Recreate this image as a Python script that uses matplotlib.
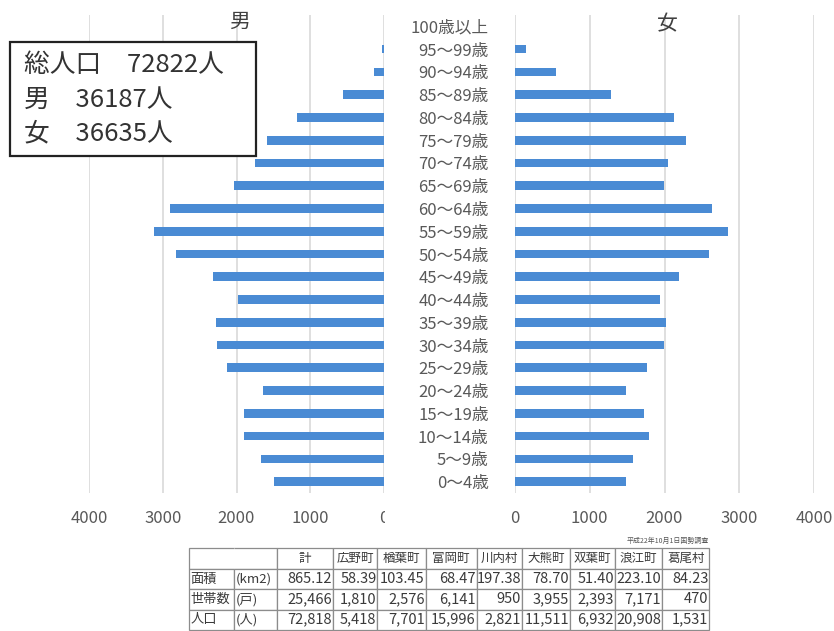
import matplotlib
matplotlib.use("Agg")
import matplotlib.pyplot as plt
from matplotlib.patches import Rectangle
from matplotlib.transforms import Bbox, TransformedBbox
import numpy as np

plt.rcParams['font.family'] = ['Noto Sans CJK JP', 'DejaVu Sans']

# age groups, bottom to top
age_labels = ['0～4歳', '5～9歳', '10～14歳', '15～19歳', '20～24歳', '25～29歳',
              '30～34歳', '35～39歳', '40～44歳', '45～49歳', '50～54歳', '55～59歳',
              '60～64歳', '65～69歳', '70～74歳', '75～79歳', '80～84歳', '85～89歳',
              '90～94歳', '95～99歳', '100歳以上']
male = [1497, 1664, 1904, 1904, 1636, 2125, 2260, 2272, 1978, 2313, 2814,
        3112, 2904, 2037, 1750, 1585, 1180, 555, 135, 30, 0]
female = [1486, 1575, 1794, 1731, 1486, 1771, 1995, 2021, 1941, 2191, 2601,
          2851, 2641, 1999, 2052, 2290, 2125, 1290, 555, 145, 0]
x_ticks = [0, 1000, 2000, 3000, 4000]

summary_lines = ['総人口　72822人', '男　36187人', '女　36635人']

# table data
table_header = ['', '', '計', '広野町', '楢葉町', '富岡町', '川内村', '大熊町', '双葉町', '浪江町', '葛尾村']
table_rows = [
    ['面積', '(km2)', '865.12', '58.39', '103.45', '68.47', '197.38', '78.70', '51.40', '223.10', '84.23'],
    ['世帯数', '(戸)', '25,466', '1,810', '2,576', '6,141', '950', '3,955', '2,393', '7,171', '470'],
    ['人口', '(人)', '72,818', '5,418', '7,701', '15,996', '2,821', '11,511', '6,932', '20,908', '1,531'],
]
table_note = '平成22年10月1日国勢調査'

W, H = 834, 631
bar_color = '#4a8bd4'
grid_color = '#d9d9d9'
text_gray = '#595959'

fig = plt.figure(figsize=(W / 100, H / 100), dpi=100)
fig.patch.set_facecolor('white')

def fx(px):
    return px / W

def fy(py):
    return 1 - py / H

y = np.arange(len(age_labels))

ax_l = fig.add_axes([fx(89), fy(493), fx(295), 478 / H])
ax_r = fig.add_axes([fx(515), fy(493), fx(299), 478 / H])

ax_l.barh(y, male, height=0.38, color=bar_color, zorder=2)
ax_r.barh(y, female, height=0.38, color=bar_color, zorder=2)

for ax in (ax_l, ax_r):
    ax.set_ylim(-0.5, len(age_labels) - 0.5)
    ax.set_xticks(x_ticks)
    ax.set_xticklabels([str(t) for t in x_ticks])
    ax.xaxis.grid(True, color=grid_color, linewidth=1.2, zorder=0)
    ax.set_axisbelow(True)
    for s in ax.spines.values():
        s.set_visible(False)
    ax.tick_params(axis='x', length=0, pad=12, labelsize=12, labelcolor=text_gray)

ax_l.set_xlim(4000, 0)
ax_r.set_xlim(0, 4000)
ax_l.set_yticks([])
ax_r.set_yticks(y)
ax_r.set_yticklabels(age_labels)
ax_r.tick_params(axis='y', length=0, pad=19, labelsize=12, labelcolor=text_gray)

# the left "0" label is cut off at the axis edge in the original
zero_lbl = ax_l.xaxis.get_major_ticks()[0].label1
zero_lbl.set_clip_box(TransformedBbox(Bbox([[0, 0], [fx(385), 1]]), fig.transFigure))
zero_lbl.set_clip_on(True)

# panel titles
fig.text(fx(240), fy(22), '男', fontsize=15, color='#404040', ha='center', va='center')
fig.text(fx(667), fy(24), '女', fontsize=15, color='#404040', ha='center', va='center')

# summary box
fig.patches.append(Rectangle((fx(10), fy(156)), fx(246), 114 / H, transform=fig.transFigure,
                             facecolor='white', edgecolor='#222222', linewidth=1.6, zorder=3))
for line, yy in zip(summary_lines, [65, 100, 133]):
    fig.text(fx(24), fy(yy), line, fontsize=18.5, color='#333333', ha='left', va='center', zorder=4)

# table
col_w = [45.3, 42.4, 56.3, 44.3, 48.4, 51, 45.3, 48, 45, 47.3, 47]
tab_ax = fig.add_axes([fx(189), fy(630), fx(520.3), 81.7 / H])
tab_ax.axis('off')
tbl = tab_ax.table(cellText=[table_header] + table_rows,
                   colWidths=[c / sum(col_w) for c in col_w],
                   bbox=[0, 0, 1, 1])
tbl.auto_set_font_size(False)
for (r, c), cell in tbl.get_celld().items():
    cell.set_edgecolor('#8c8c8c')
    cell.set_linewidth(0.9)
    txt = cell.get_text()
    txt.set_color('#3a3a3a')
    if r == 0:
        txt.set_fontsize(9)
        cell.set_text_props(ha='center')
        cell._loc = 'center'
    elif c < 2:
        txt.set_fontsize(9.5)
        cell._loc = 'left'
        cell.PAD = 0.03
        txt.set_ha('left')
    else:
        txt.set_fontsize(10.5)
        cell._loc = 'right'
        cell.PAD = 0.02
        txt.set_ha('right')
tbl[0, 0].visible_edges = 'BLT'
tbl[0, 1].visible_edges = 'BRT'

fig.text(fx(709), fy(541), table_note, fontsize=5, color='#555555', ha='right', va='center')

fig.savefig('out.png', dpi=100, facecolor='white')
